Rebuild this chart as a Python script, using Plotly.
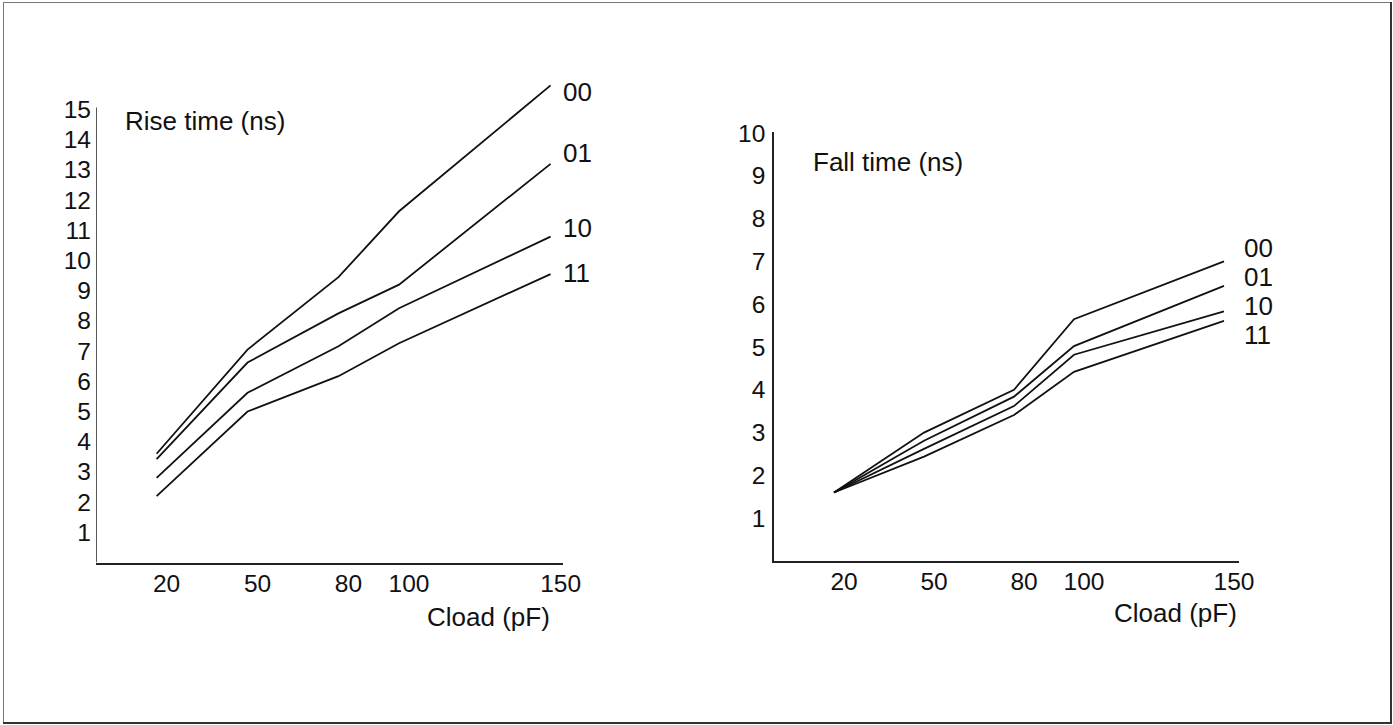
import plotly.graph_objects as go

# ---- data ----
cload = [20, 50, 80, 100, 150]
series_names = ["00", "01", "10", "11"]

rise_00 = [3.6, 7.05, 9.45, 11.63, 15.8]
rise_01 = [3.42, 6.62, 8.25, 9.2, 13.2]
rise_10 = [2.8, 5.62, 7.16, 8.42, 10.79]
rise_11 = [2.2, 5.0, 6.17, 7.26, 9.55]

fall_00 = [1.6, 3.0, 4.0, 5.65, 7.0]
fall_01 = [1.6, 2.81, 3.84, 5.02, 6.43]
fall_10 = [1.6, 2.62, 3.62, 4.82, 5.83]
fall_11 = [1.6, 2.44, 3.41, 4.42, 5.61]

x_ticks = [20, 50, 80, 100, 150]
rise_y_ticks = list(range(1, 16))
fall_y_ticks = list(range(1, 11))

rise_title = "Rise time (ns)"
fall_title = "Fall time (ns)"
x_title = "Cload (pF)"

# ---- layout helpers ----
W, H = 1393, 725
FONT = "Liberation Sans, Arial, Helvetica, sans-serif"
def px(x):
    return x / W
def py(y):
    return 1 - y / H

fig = go.Figure()
line_style = dict(color="#111111", width=1.8)

for ys in [rise_00, rise_01, rise_10, rise_11]:
    fig.add_trace(go.Scatter(x=cload, y=ys, mode="lines", line=line_style,
                             xaxis="x", yaxis="y", showlegend=False, hoverinfo="skip"))
for ys in [fall_00, fall_01, fall_10, fall_11]:
    fig.add_trace(go.Scatter(x=cload, y=ys, mode="lines", line=line_style,
                             xaxis="x2", yaxis="y2", showlegend=False, hoverinfo="skip"))

axis_common = dict(showgrid=False, zeroline=False, showline=True, linecolor="#222222",
                   linewidth=1.5, ticks="", tickfont=dict(family=FONT, size=24.5, color="#111111"),
                   fixedrange=True, automargin=False)

L_Y0, L_PPU = 562.5, 30.2
L_YMAX = 16.0
R_Y0, R_PPU = 561.0, 42.8
R_YMAX = 10.03

fig.update_layout(
    width=W, height=H,
    margin=dict(l=0, r=0, t=0, b=0, pad=0, autoexpand=False),
    paper_bgcolor="white", plot_bgcolor="white",
    font=dict(family=FONT, color="#111111"),
    xaxis=dict(axis_common, domain=[px(96), px(562.7)], range=[0, 154],
               tickvals=x_ticks, ticktext=[str(v) for v in x_ticks],
               ticklabelshift=10, ticklabelstandoff=-2, anchor="y"),
    yaxis=dict(axis_common, domain=[py(L_Y0), py(L_Y0 - L_YMAX * L_PPU)], range=[0, L_YMAX],
               tickvals=rise_y_ticks, ticktext=[str(v) for v in rise_y_ticks],
               showline=False, ticklabelstandoff=4, anchor="x"),
    xaxis2=dict(axis_common, domain=[px(774), px(1239)], range=[0, 155],
                tickvals=x_ticks, ticktext=[str(v) for v in x_ticks],
                ticklabelshift=10, ticklabelstandoff=-2, anchor="y2"),
    yaxis2=dict(axis_common, domain=[py(R_Y0), py(R_Y0 - R_YMAX * R_PPU)], range=[0, R_YMAX],
                tickvals=fall_y_ticks, ticktext=[str(v) for v in fall_y_ticks],
                ticklabelstandoff=2, anchor="x2"),
)

ann_font = dict(family=FONT, size=26, color="#111111")
ann = []
def pa(text, x, y, xanchor="left"):
    ann.append(dict(x=px(x), y=py(y), xref="paper", yref="paper", text=text, showarrow=False,
                    xanchor=xanchor, yanchor="middle", font=ann_font))

pa(rise_title, 123, 121.3)
pa(fall_title, 810.5, 161.7)
pa(x_title, 551.5, 616.7, "right")
pa(x_title, 1239, 613.3, "right")

rise_label_px = [91.7, 153.3, 228.3, 273.3]
fall_label_px = [248.3, 277.3, 306.0, 335.0]
for name, yv in zip(series_names, rise_label_px):
    pa(name, 560.5, yv)
for name, yv in zip(series_names, fall_label_px):
    pa(name, 1242, yv)
fig.update_layout(annotations=ann)

shapes = [
    dict(type="line", xref="x", yref="y", x0=0, x1=0, y0=0, y1=15.07,
         line=dict(color="#222222", width=1.5), layer="above"),
    dict(type="line", xref="paper", yref="paper", x0=px(3), x1=px(1391), y0=py(2.5), y1=py(2.5),
         line=dict(color="#777777", width=1)),
    dict(type="line", xref="paper", yref="paper", x0=px(3.5), x1=px(3.5), y0=py(2), y1=py(723),
         line=dict(color="#777777", width=1)),
    dict(type="line", xref="paper", yref="paper", x0=px(1391), x1=px(1391), y0=py(2), y1=py(724),
         line=dict(color="#333333", width=2)),
    dict(type="line", xref="paper", yref="paper", x0=px(3), x1=px(1392), y0=py(723), y1=py(723),
         line=dict(color="#333333", width=2)),
]
fig.update_layout(shapes=shapes)

post = (
    "document.body.style.margin='0';"
    "document.documentElement.style.overflow='hidden';"
    "document.body.style.overflow='hidden';"
)
fig.write_html("out.html", post_script=post,
               config={"displayModeBar": False})
